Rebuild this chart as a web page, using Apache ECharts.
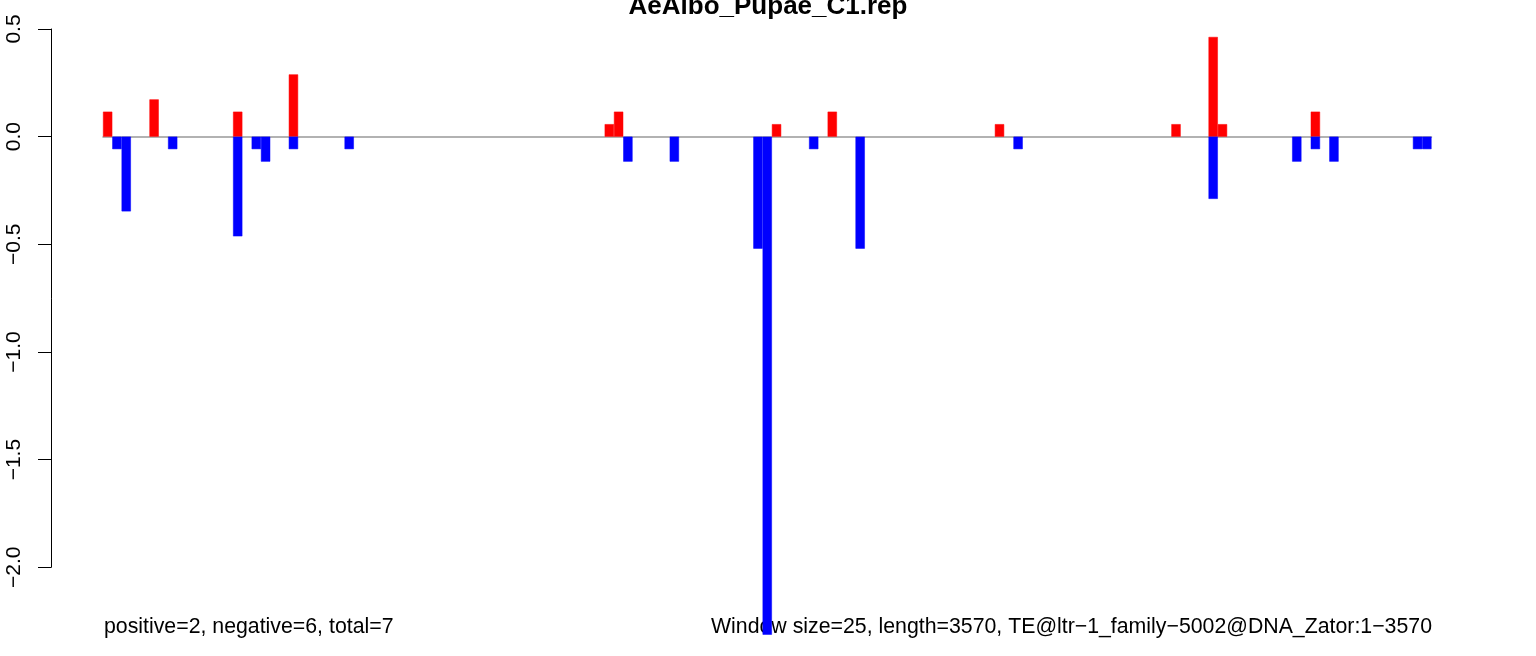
<!DOCTYPE html>
<html>
<head>
<meta charset="utf-8">
<script src="https://cdn.jsdelivr.net/npm/echarts@6/dist/echarts.min.js"></script>
<style>
html,body{margin:0;padding:0;background:#fff;}
#chart{width:1536px;height:656px;}
</style>
</head>
<body>
<div id="chart"></div>
<script>
// 143 windows of 25 bp over length 3570
const windowCount = 143;
const categories = Array.from({length: windowCount}, (_, i) => String(i + 1));

// positive-strand values (red), per window
const positive = [
  0.116, 0, 0, 0, 0, 0.173, 0, 0, 0, 0, 0, 0, 0, 0, 0.116, 0, 0, 0, 0, 0,
  0.289, 0, 0, 0, 0, 0, 0, 0, 0, 0, 0, 0, 0, 0, 0, 0, 0, 0, 0, 0,
  0, 0, 0, 0, 0, 0, 0, 0, 0, 0, 0, 0, 0, 0, 0.058, 0.116, 0, 0, 0, 0,
  0, 0, 0, 0, 0, 0, 0, 0, 0, 0, 0, 0, 0.058, 0, 0, 0, 0, 0, 0.116, 0,
  0, 0, 0, 0, 0, 0, 0, 0, 0, 0, 0, 0, 0, 0, 0, 0, 0.058, 0, 0, 0,
  0, 0, 0, 0, 0, 0, 0, 0, 0, 0, 0, 0, 0, 0, 0, 0.058, 0, 0, 0, 0.463,
  0.058, 0, 0, 0, 0, 0, 0, 0, 0, 0, 0.116, 0, 0, 0, 0, 0, 0, 0, 0, 0,
  0, 0, 0
];

// negative-strand values (blue), per window
const negative = [
  0, -0.058, -0.347, 0, 0, 0, 0, -0.058, 0, 0, 0, 0, 0, 0, -0.463, 0, -0.058, -0.116, 0, 0,
  -0.058, 0, 0, 0, 0, 0, -0.058, 0, 0, 0, 0, 0, 0, 0, 0, 0, 0, 0, 0, 0,
  0, 0, 0, 0, 0, 0, 0, 0, 0, 0, 0, 0, 0, 0, 0, 0, -0.116, 0, 0, 0,
  0, -0.116, 0, 0, 0, 0, 0, 0, 0, 0, -0.520, -2.313, 0, 0, 0, 0, -0.058, 0, 0, 0,
  0, -0.520, 0, 0, 0, 0, 0, 0, 0, 0, 0, 0, 0, 0, 0, 0, 0, 0, -0.058, 0,
  0, 0, 0, 0, 0, 0, 0, 0, 0, 0, 0, 0, 0, 0, 0, 0, 0, 0, 0, -0.289,
  0, 0, 0, 0, 0, 0, 0, 0, -0.116, 0, -0.058, 0, -0.116, 0, 0, 0, 0, 0, 0, 0,
  0, -0.058, -0.058
];

const yTicks = [-2.0, -1.5, -1.0, -0.5, 0.0, 0.5];
const titleText = 'AeAlbo_Pupae_C1.rep';
const leftNote = 'positive=2, negative=6, total=7';
const rightNote = 'Window size=25, length=3570, TE@ltr\u22121_family\u22125002@DNA_Zator:1\u22123570';

const FONT = '"Liberation Sans", Arial, Helvetica, sans-serif';
const nonZero = arr => arr.map(v => (v === 0 ? null : v));
const chart = echarts.init(document.getElementById('chart'), null, {renderer: 'canvas'});

chart.setOption({
  backgroundColor: '#ffffff',
  animation: false,
  title: {
    text: titleText,
    left: 'center',
    top: -11,
    textStyle: {fontFamily: FONT, fontSize: 26, fontWeight: 'bold', color: '#000'}
  },
  grid: {left: 103, right: 104.5, top: 29, bottom: 88.7, containLabel: false},
  xAxis: {
    type: 'category',
    data: categories,
    boundaryGap: true,
    axisLine: {show: true, onZero: true, lineStyle: {color: '#999999', width: 1.5}},
    axisTick: {show: false},
    axisLabel: {show: false},
    splitLine: {show: false}
  },
  yAxis: {
    type: 'value',
    min: yTicks[0],
    max: yTicks[yTicks.length - 1],
    interval: 0.5,
    offset: 52,
    axisLine: {show: true, lineStyle: {color: '#000', width: 1}},
    axisTick: {show: true, length: 13, lineStyle: {color: '#000', width: 1}},
    axisLabel: {
      rotate: 90,
      margin: 26,
      fontFamily: FONT,
      fontSize: 21,
      color: '#000',
      formatter: v => v.toFixed(1).replace('-', '\u2212')
    },
    splitLine: {show: false}
  },
  series: [
    {
      type: 'bar',
      name: 'positive',
      data: nonZero(positive),
      barWidth: '100%',
      barGap: '-100%',
      clip: false,
      itemStyle: {color: '#ff0000', borderColor: '#ff0000', borderWidth: 0.5}
    },
    {
      type: 'bar',
      name: 'negative',
      data: nonZero(negative),
      barWidth: '100%',
      barGap: '-100%',
      clip: false,
      itemStyle: {color: '#0000ff', borderColor: '#0000ff', borderWidth: 0.5}
    }
  ],
  graphic: [
    {
      type: 'text',
      left: 104,
      top: 616.5,
      style: {text: leftNote, font: '21.3px ' + FONT, fill: '#000'}
    },
    {
      type: 'text',
      right: 104,
      top: 616.5,
      style: {text: rightNote, font: '21.3px ' + FONT, fill: '#000'}
    }
  ]
});
</script>
</body>
</html>
